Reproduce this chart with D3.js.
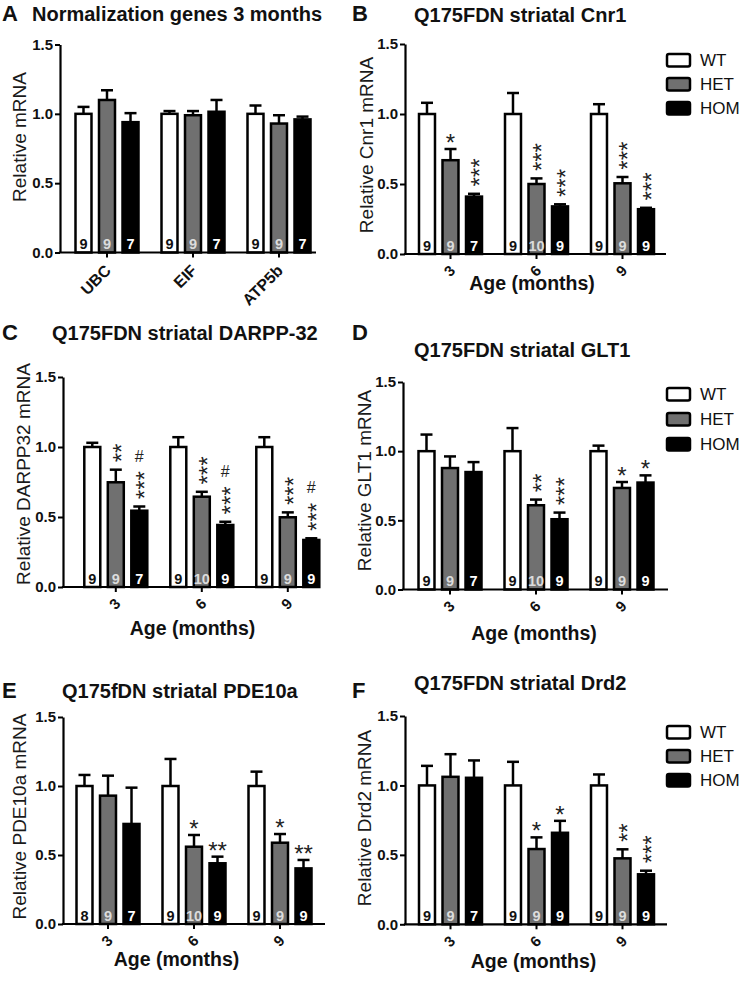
<!DOCTYPE html>
<html><head><meta charset="utf-8">
<script src="https://cdn.jsdelivr.net/npm/d3@7"></script>
<style>
html,body{margin:0;padding:0;background:#fff;}
svg{display:block;font-family:"Liberation Sans",Arial,Helvetica,sans-serif;}
</style></head><body>
<svg id="chart" width="742" height="981"></svg>
<script>
// ---------- data ----------
const series = ["WT", "HET", "HOM"];
const ages = ["3", "6", "9"];
const genesA = ["UBC", "EIF", "ATP5b"];
const yTicks = [0, 0.5, 1.0, 1.5];

// A: Normalization genes 3 months
const meanA = [[1.00, 1.10, 0.94], [1.00, 0.99, 1.015], [1.00, 0.93, 0.96]];
const semA  = [[0.05, 0.07, 0.065], [0.02, 0.03, 0.085], [0.06, 0.06, 0.02]];
const nA    = [[9, 9, 7], [9, 9, 7], [9, 9, 7]];

// B: Cnr1
const meanB = [[1.00, 0.67, 0.41], [1.00, 0.50, 0.34], [1.00, 0.505, 0.32]];
const semB  = [[0.08, 0.08, 0.02], [0.15, 0.04, 0.015], [0.07, 0.045, 0.01]];
const nB    = [[9, 9, 7], [9, 10, 9], [9, 9, 9]];
const sigB  = [["", "*", "***"], ["", "***", "***"], ["", "***", "***"]];

// C: DARPP-32
const meanC = [[1.00, 0.748, 0.545], [1.00, 0.645, 0.443], [1.00, 0.498, 0.336]];
const semC  = [[0.03, 0.09, 0.03], [0.07, 0.035, 0.023], [0.07, 0.035, 0.012]];
const nC    = [[9, 9, 7], [9, 10, 9], [9, 9, 9]];
const sigC  = [["", "**", "***"], ["", "***", "***"], ["", "***", "***"]];
const hashC = [["", "", "#"], ["", "", "#"], ["", "", "#"]];

// D: GLT1
const meanD = [[1.00, 0.878, 0.849], [1.00, 0.609, 0.508], [1.00, 0.734, 0.773]];
const semD  = [[0.12, 0.084, 0.072], [0.167, 0.041, 0.048], [0.04, 0.043, 0.052]];
const nD    = [[9, 9, 7], [9, 10, 9], [9, 9, 9]];
const sigD  = [["", "", ""], ["", "**", "***"], ["", "*", "*"]];

// E: PDE10a
const meanE = [[1.00, 0.93, 0.725], [1.00, 0.56, 0.44], [1.00, 0.589, 0.403]];
const semE  = [[0.08, 0.145, 0.263], [0.196, 0.085, 0.048], [0.104, 0.063, 0.061]];
const nE    = [[8, 9, 7], [9, 10, 9], [9, 9, 9]];
const sigE  = [["", "", ""], ["", "*", "**"], ["", "*", "**"]];

// F: Drd2
const meanF = [[1.00, 1.062, 1.055], [1.00, 0.542, 0.659], [1.00, 0.475, 0.36]];
const semF  = [[0.141, 0.163, 0.125], [0.17, 0.084, 0.086], [0.079, 0.065, 0.026]];
const nF    = [[9, 9, 7], [9, 9, 9], [9, 9, 9]];
const sigF  = [["", "", ""], ["", "*", "*"], ["", "**", "***"]];

// ---------- styles ----------
const fills = {WT: "#ffffff", HET: "#707070", HOM: "#000000"};
const nColors = {WT: "#111111", HET: "#dcdcdc", HOM: "#ffffff"};

const panels = [
  {letter: "A", title: "Normalization genes 3 months", cats: genesA, mean: meanA, sem: semA, n: nA, sig: null, hash: null,
   ylabel: "Relative mRNA", xlabel: null, catSize: 16, starRow: false,
   L: {axisX: 60, y0: 252.5, y15: 44.5, xEnd: 316, c1: 107, letter: [2, 21], title: [32, 21], ylab: [26, 137], xlab: null, legend: null}},
  {letter: "B", title: "Q175FDN striatal Cnr1", cats: ages, mean: meanB, sem: semB, n: nB, sig: sigB, hash: null,
   ylabel: "Relative Cnr1 mRNA", xlabel: "Age (months)", catSize: 15, starRow: false,
   L: {axisX: 405, y0: 254, y15: 44, xEnd: 666, c1: 450.5, letter: [352, 21], title: [414, 22], ylab: [373, 145], xlab: [532, 290], legend: [667, 54, 24]}},
  {letter: "C", title: "Q175FDN striatal DARPP-32", cats: ages, mean: meanC, sem: semC, n: nC, sig: sigC, hash: hashC,
   ylabel: "Relative DARPP32 mRNA", xlabel: "Age (months)", catSize: 15, starRow: false,
   L: {axisX: 63, y0: 587, y15: 377, xEnd: 320, c1: 115.8, letter: [2, 340], title: [52, 340], ylab: [30, 474], xlab: [192.5, 635], legend: null}},
  {letter: "D", title: "Q175FDN striatal GLT1", cats: ages, mean: meanD, sem: semD, n: nD, sig: sigD, hash: null,
   ylabel: "Relative GLT1 mRNA", xlabel: "Age (months)", catSize: 15, starRow: false,
   L: {axisX: 403, y0: 589.5, y15: 382, xEnd: 668, c1: 450, letter: [352, 340], title: [414, 357], ylab: [371, 480.5], xlab: [534, 640], legend: [667, 388, 25]}},
  {letter: "E", title: "Q175fDN striatal PDE10a", cats: ages, mean: meanE, sem: semE, n: nE, sig: sigE, hash: null,
   ylabel: "Relative PDE10a mRNA", xlabel: "Age (months)", catSize: 15, starRow: true,
   L: {axisX: 63, y0: 924, y15: 717, xEnd: 325, c1: 108, letter: [2, 698], title: [62, 698], ylab: [26, 816.5], xlab: [176.5, 966], legend: null}},
  {letter: "F", title: "Q175FDN striatal Drd2", cats: ages, mean: meanF, sem: semF, n: nF, sig: sigF, hash: null,
   ylabel: "Relative Drd2 mRNA", xlabel: "Age (months)", catSize: 15, starRow: false,
   L: {axisX: 405, y0: 924.3, y15: 716, xEnd: 667, c1: 450.5, letter: [352, 698], title: [414, 690], ylab: [371, 818], xlab: [533.5, 968], legend: [667, 726, 24]}}
];

const svg = d3.select("#chart");
const STAR_FS = 24, STAR_GAP = 12;
const FONT = '"Liberation Sans",Arial,sans-serif';

panels.forEach(p => {
  const L = p.L;
  const g = svg.append("g");

  const y = d3.scaleLinear().domain([0, 1.5]).range([L.y0, L.y15]);
  const x0 = d3.scaleBand().domain(p.cats).range([L.c1 - 43, L.c1 - 43 + 258]).padding(0);
  const x1 = d3.scaleBand().domain(series).range([-31.5, 31.5]).paddingInner(0.32).paddingOuter(0);
  const bw = x1.bandwidth();

  // panel letter + title
  g.append("text").attr("x", L.letter[0]).attr("y", L.letter[1])
    .attr("font-size", 22).attr("font-weight", "bold").attr("fill", "#111").text(p.letter);
  g.append("text").attr("x", L.title[0]).attr("y", L.title[1])
    .attr("font-size", 20).attr("font-weight", "bold").attr("fill", "#111").text(p.title);

  // y label
  g.append("text")
    .attr("transform", `translate(${L.ylab[0]},${L.ylab[1]}) rotate(-90)`)
    .attr("text-anchor", "middle").attr("font-size", 19).attr("fill", "#1a1a1a")
    .text(p.ylabel);

  // x label
  if (p.xlabel) {
    g.append("text").attr("x", L.xlab[0]).attr("y", L.xlab[1])
      .attr("text-anchor", "middle").attr("font-size", 19.5).attr("font-weight", "bold").attr("fill", "#111")
      .text(p.xlabel);
  }

  // flatten records
  const recs = [];
  p.cats.forEach((c, i) => series.forEach((s, j) => {
    recs.push({cat: c, s: s, mean: p.mean[i][j], sem: p.sem[i][j], n: p.n[i][j],
      sig: p.sig ? p.sig[i][j] : "", hash: p.hash ? p.hash[i][j] : "",
      cx: x0(c) + x0.bandwidth() / 2 + x1(s) + bw / 2});
  }));

  // error bars
  const eg = g.append("g").attr("stroke", "#000").attr("stroke-width", 2.5);
  recs.forEach(r => {
    const yt = y(r.mean + r.sem);
    eg.append("line").attr("x1", r.cx).attr("x2", r.cx).attr("y1", y(r.mean)).attr("y2", yt);
    eg.append("line").attr("x1", r.cx - 6).attr("x2", r.cx + 6).attr("y1", yt).attr("y2", yt);
  });

  // bars
  g.append("g").selectAll("rect").data(recs).join("rect")
    .attr("x", d => d.cx - bw / 2).attr("width", bw)
    .attr("y", d => y(d.mean)).attr("height", d => y(0) - y(d.mean))
    .attr("fill", d => fills[d.s]).attr("stroke", "#000").attr("stroke-width", 2.5);

  // n labels
  g.append("g").selectAll("text").data(recs).join("text")
    .attr("x", d => d.cx).attr("y", y(0) - 3.5)
    .attr("text-anchor", "middle").attr("font-size", 14.5).attr("font-weight", "bold")
    .attr("fill", d => nColors[d.s]).text(d => d.n);

  // significance
  const sg = g.append("g").attr("fill", "#222");
  recs.forEach(r => {
    if (!r.sig) return;
    const base = y(r.mean + r.sem) - STAR_GAP; // center of lowest star
    let topC = base;
    if (p.starRow || r.sig.length === 1) {
      sg.append("text").attr("x", r.cx).attr("y", base + STAR_FS * 0.58)
        .attr("text-anchor", "middle").attr("font-size", STAR_FS).text(r.sig);
    } else {
      // vertical stack: rotated text reading bottom-to-top
      const adv = 0.389 * STAR_FS;
      sg.append("text")
        .attr("transform", `translate(${r.cx + 0.58 * STAR_FS},${base + adv / 2}) rotate(-90)`)
        .attr("text-anchor", "start").attr("font-size", STAR_FS).text(r.sig);
      topC = base - (r.sig.length - 1) * adv;
    }
    if (r.hash) {
      const hc = topC - 20;
      sg.append("text").attr("x", r.cx).attr("y", hc + 16 * 0.36)
        .attr("text-anchor", "middle").attr("font-size", 16).text(r.hash);
    }
  });

  // y axis
  const yAxis = d3.axisLeft(y).tickValues(yTicks).tickFormat(d3.format(".1f"))
    .tickSize(5).tickSizeOuter(0).tickPadding(2);
  const ya = g.append("g").attr("transform", `translate(${L.axisX},0)`).call(yAxis)
    .attr("font-size", 15).attr("font-family", FONT);
  ya.select(".domain").attr("stroke-width", 2.2);
  ya.selectAll(".tick line").attr("stroke-width", 2);
  ya.selectAll(".tick text").attr("font-size", 15).attr("font-weight", "bold").attr("fill", "#111");

  // x axis
  const xAxis = d3.axisBottom(x0).tickSize(5).tickSizeOuter(0);
  const xa = g.append("g").attr("transform", `translate(0,${L.y0})`).call(xAxis)
    .attr("font-size", p.catSize).attr("font-family", FONT);
  xa.select(".domain").remove();
  xa.selectAll(".tick line").attr("stroke-width", 2);
  xa.selectAll(".tick text")
    .attr("x", null).attr("y", null).attr("dy", "0.35em")
    .attr("transform", p.catSize > 15 ? "translate(1,15) rotate(-45)" : "translate(2,14) rotate(-45)")
    .attr("text-anchor", "end")
    .attr("font-size", p.catSize).attr("font-weight", "bold").attr("fill", "#111");
  g.append("line").attr("x1", L.axisX - 1.1).attr("x2", L.xEnd)
    .attr("y1", L.y0).attr("y2", L.y0).attr("stroke", "#000").attr("stroke-width", 2.2);

  // legend
  if (L.legend) {
    const [lx, ly, lp] = L.legend;
    const lg = g.append("g");
    series.forEach((s, k) => {
      lg.append("rect").attr("x", lx).attr("y", ly + k * lp).attr("width", 23).attr("height", 12.5)
        .attr("rx", 2).attr("fill", fills[s]).attr("stroke", "#000").attr("stroke-width", 2.5);
      lg.append("text").attr("x", lx + 33).attr("y", ly + k * lp + 6.25).attr("dy", "0.36em")
        .attr("font-size", 17).attr("fill", "#111").text(s);
    });
  }
});
</script>
</body></html>
